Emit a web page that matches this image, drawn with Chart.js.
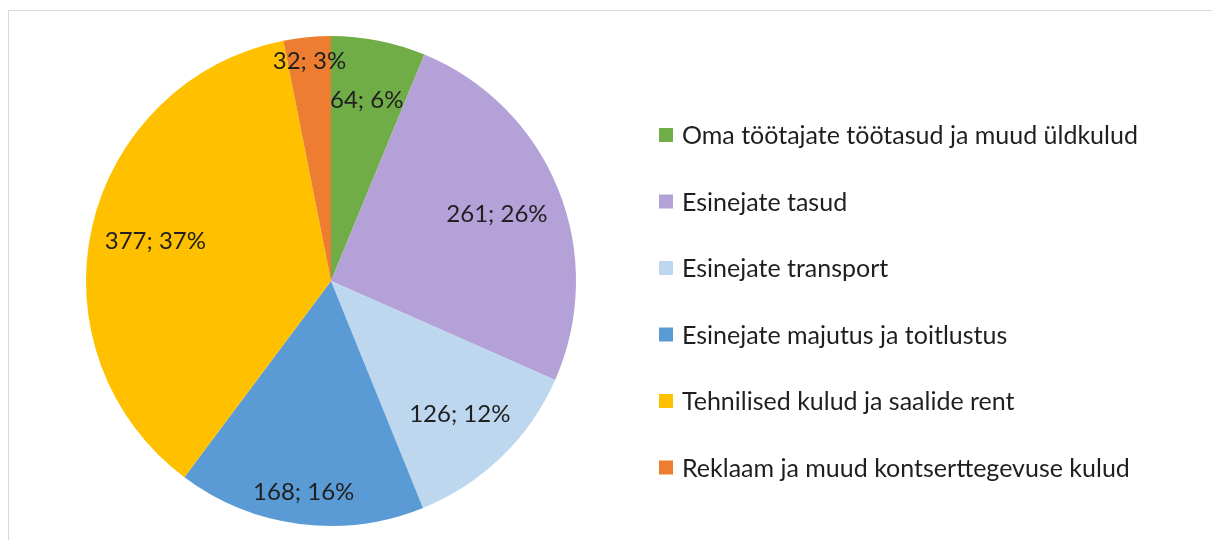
<!DOCTYPE html>
<html>
<head>
<meta charset="utf-8">
<script src="https://cdn.jsdelivr.net/npm/chart.js@4/dist/chart.umd.min.js"></script>
<style>
  html, body { margin: 0; padding: 0; background: #ffffff; }
  #wrap { width: 1212px; height: 540px; position: relative; }
</style>
</head>
<body>
<div id="wrap"><canvas id="c" width="1212" height="540"></canvas></div>
<script>
const categories = [
  'Oma töötajate töötasud ja muud üldkulud',
  'Esinejate tasud',
  'Esinejate transport',
  'Esinejate majutus ja toitlustus',
  'Tehnilised kulud ja saalide rent',
  'Reklaam ja muud kontserttegevuse kulud'
];
const values = [64, 261, 126, 168, 377, 32];
const percentLabels = [6, 26, 12, 16, 37, 3];
const colors = ['#70AD47', '#B4A1D8', '#BDD7EE', '#5B9BD5', '#FFC000', '#ED7D31'];

const FONT = 'Lato, "Open Sans", "Noto Sans", sans-serif';
const TEXT_COLOR = '#1f1f1f';

const frame = {
  id: 'frame',
  beforeDraw(chart) {
    const ctx = chart.ctx;
    ctx.save();
    ctx.strokeStyle = '#d9d9d9';
    ctx.lineWidth = 1;
    ctx.strokeRect(8.5, 10.5, 1240, 560);
    ctx.restore();
  }
};

const sliceLabels = {
  id: 'sliceLabels',
  afterDatasetsDraw(chart, args, opts) {
    const ctx = chart.ctx;
    const meta = chart.getDatasetMeta(0);
    ctx.save();
    ctx.font = '24px ' + FONT;
    ctx.fillStyle = TEXT_COLOR;
    ctx.textAlign = 'center';
    ctx.textBaseline = 'middle';
    meta.data.forEach((arc, i) => {
      const p = arc.getProps(['x', 'y', 'startAngle', 'endAngle', 'outerRadius'], true);
      const mid = (p.startAngle + p.endAngle) / 2;
      const r = p.outerRadius * opts.radii[i];
      const x = p.x + Math.cos(mid) * r;
      const y = p.y + Math.sin(mid) * r;
      const v = chart.data.datasets[0].data[i];
      ctx.fillText(v + '; ' + percentLabels[i] + '%', x, y);
    });
    ctx.restore();
  }
};

const sideLegend = {
  id: 'sideLegend',
  afterDraw(chart, args, opts) {
    const ctx = chart.ctx;
    const ds = chart.data.datasets[0];
    ctx.save();
    ctx.font = '25px ' + FONT;
    ctx.textBaseline = 'middle';
    ctx.textAlign = 'left';
    chart.data.labels.forEach((lab, i) => {
      const cy = opts.top + i * opts.step;
      ctx.fillStyle = ds.backgroundColor[i];
      ctx.fillRect(opts.x, cy - opts.box / 2, opts.box, opts.box);
      ctx.fillStyle = TEXT_COLOR;
      ctx.fillText(lab, opts.x + opts.box + 9, cy + 1);
    });
    ctx.restore();
  }
};

new Chart(document.getElementById('c'), {
  type: 'pie',
  data: {
    labels: categories,
    datasets: [{
      data: values,
      backgroundColor: colors,
      borderWidth: 0
    }]
  },
  options: {
    responsive: false,
    animation: false,
    layout: { padding: { left: 86, right: 636, top: 36, bottom: 14 } },
    plugins: {
      legend: { display: false },
      tooltip: { enabled: false },
      sliceLabels: { radii: [0.75, 0.73, 0.755, 0.87, 0.735, 0.9] },
      sideLegend: { x: 659, top: 135, step: 66.5, box: 14 }
    }
  },
  plugins: [frame, sliceLabels, sideLegend]
});
</script>
</body>
</html>
